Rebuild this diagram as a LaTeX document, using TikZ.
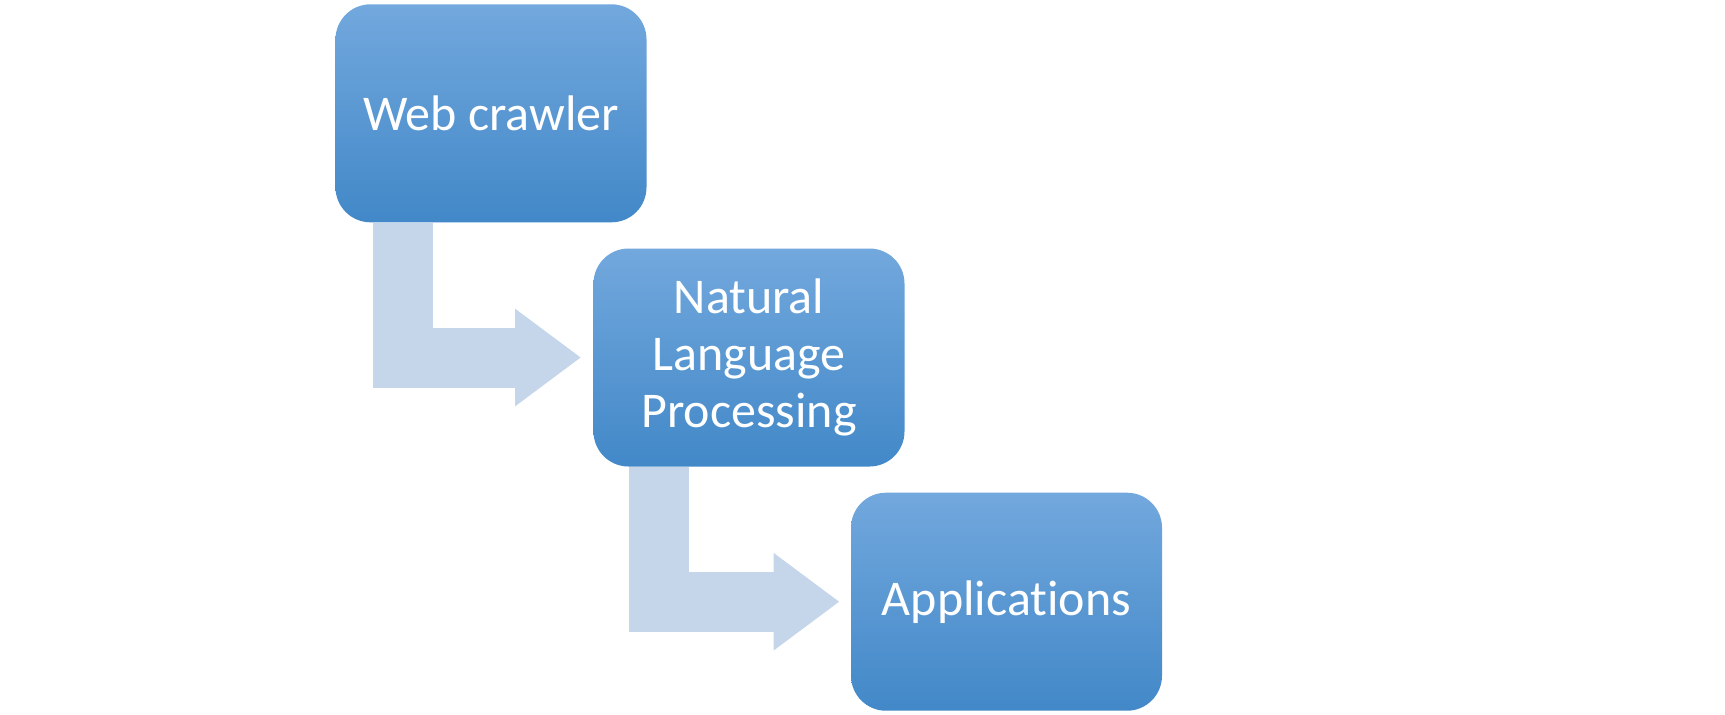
\documentclass[tikz,border=0pt]{standalone}
\usepackage{fontspec}
\setmainfont{Carlito}[Ligatures=NoCommon]
\usetikzlibrary{arrows.meta,positioning}

\definecolor{boxtop}{HTML}{72A8DD}
\definecolor{boxbot}{HTML}{4288C8}
\definecolor{flowcol}{HTML}{C5D6EB}

\begin{document}
\begin{tikzpicture}[x=0.5pt, y=-0.5pt,
    stage/.style={rectangle, rounded corners=17.5pt, top color=boxtop, bottom color=boxbot,
        minimum width=155.5pt, minimum height=109pt, inner sep=2pt, text=white,
        align=center, font=\fontsize{25pt}{28.5pt}\selectfont},
    flow/.style={draw=flowcol, line width=30pt, line join=miter,
        -{Triangle[width=46.5pt, length=33pt]}}
]
\useasboundingbox (0,0) rectangle (1725,714);
\node[stage] (wc) at (491,113.3) {Web crawler};
\node[stage] (nlp) at (749,357.5) {Natural\\Language\\Processing};
\node[stage] (app) at (1006.5,601.7) {Applications};
\draw[flow] ([xshift=33.75pt]wc.south west) |- ([xshift=-6pt]nlp.west);
\draw[flow] ([xshift=33pt]nlp.south west) |- ([xshift=-5.5pt]app.west);
\end{tikzpicture}
\end{document}
